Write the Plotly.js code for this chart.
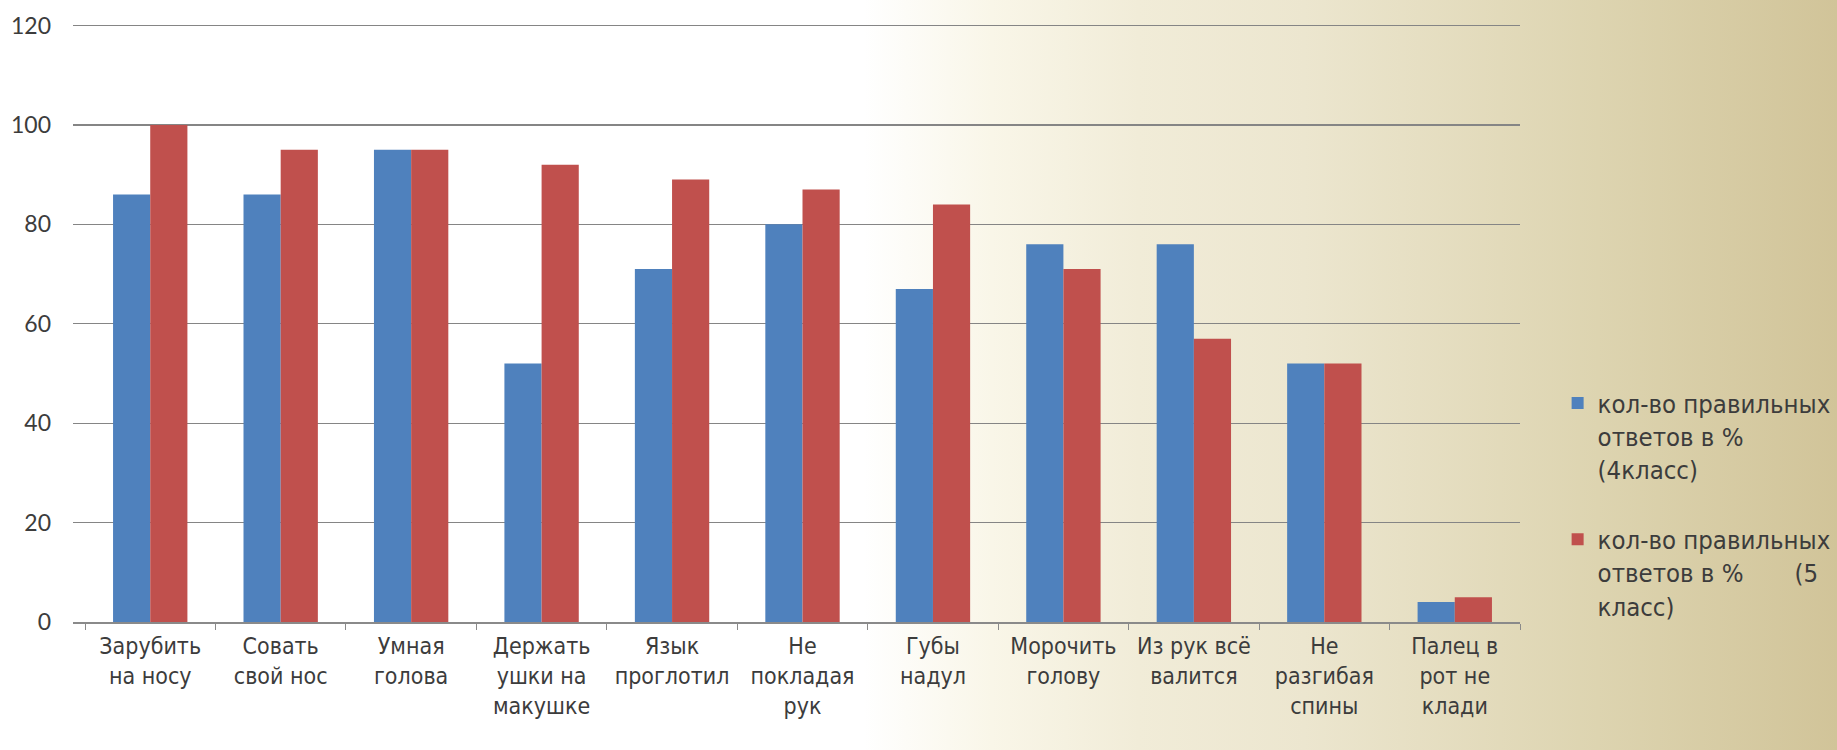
<!DOCTYPE html>
<html>
<head>
<meta charset="utf-8">
<script src="https://cdn.plot.ly/plotly-3.0.1.min.js"></script>
<style>
html, body { margin: 0; padding: 0; }
body {
  width: 1837px; height: 750px; overflow: hidden;
  background: linear-gradient(to right, #ffffff 0%, #ffffff 47%, #f9f6e8 54%, #f1ecd8 62%, #ece6cf 71%, #ddd4b0 87%, #d1c499 100%);
}
#chart { width: 1837px; height: 750px; }
</style>
</head>
<body>
<div id="chart"></div>
<script>
// Categories (idioms)
const categories = [
  "Зарубить на носу", "Совать свой нос", "Умная голова", "Держать ушки на макушке",
  "Язык проглотил", "Не покладая рук", "Губы надул", "Морочить голову",
  "Из рук всё валится", "Не разгибая спины", "Палец в рот не клади"
];
// Tick labels as wrapped in the original
const tickLabels = [
  "Зарубить<br>на носу", "Совать<br>свой нос", "Умная<br>голова", "Держать<br>ушки на<br>макушке",
  "Язык<br>проглотил", "Не<br>покладая<br>рук", "Губы<br>надул", "Морочить<br>голову",
  "Из рук всё<br>валится", "Не<br>разгибая<br>спины", "Палец в<br>рот не<br>клади"
];
// Series values (% correct answers)
const grade4 = [86, 86, 95, 52, 71, 80, 67, 76, 76, 52, 4];
const grade5 = [100, 95, 95, 92, 89, 87, 84, 71, 57, 52, 5];
const seriesNames = [
  "кол-во правильных<br>ответов в %<br>(4класс)",
  "кол-во правильных<br>ответов в %\u00a0\u00a0\u00a0\u00a0\u00a0\u00a0\u00a0(5<br>класс)"
];
const yTicks = [0, 20, 40, 60, 80, 100, 120];

const traces = [
  { type: "bar", x: categories, y: grade4, name: seriesNames[0], legendgroup: "g4",
    marker: { color: "#4f81bd" }, hoverinfo: "x+y" },
  { type: "bar", x: categories, y: grade5, name: seriesNames[1], legendgroup: "g5",
    marker: { color: "#c0504d" }, hoverinfo: "x+y" }
];

const layout = {
  width: 1837, height: 750,
  paper_bgcolor: "rgba(0,0,0,0)",
  plot_bgcolor: "rgba(0,0,0,0)",
  margin: { l: 73, r: 317, t: 24, b: 128, pad: 0, autoexpand: false },
  barmode: "group",
  bargap: 0.43,
  bargroupgap: 0,
  font: { family: "Liberation Sans Narrow, DejaVu Sans Condensed, sans-serif", color: "#3c3c3c", size: 22 },
  xaxis: {
    type: "category",
    range: [-0.592, 10.5],
    tickmode: "array",
    tickvals: categories,
    ticktext: tickLabels,
    tickson: "boundaries",
    ticks: "outside",
    ticklen: 6,
    tickcolor: "#8a8a8a",
    showline: true,
    linecolor: "#8a8a8a",
    linewidth: 1.5,
    showgrid: false,
    tickfont: { family: "Liberation Sans Narrow, DejaVu Sans Condensed, sans-serif", size: 23, color: "#3c3c3c" },
    ticklabelstandoff: 3,
    zeroline: false,
    automargin: false,
    fixedrange: true
  },
  yaxis: {
    range: [0, 120.3],
    tickmode: "array",
    tickvals: yTicks,
    ticktext: yTicks.map(String),
    showgrid: true,
    gridcolor: "#858585",
    gridwidth: 1.2,
    zeroline: false,
    showline: false,
    ticks: "",
    tickfont: { family: "Lato, sans-serif", size: 23, color: "#3c3c3c" },
    ticklabelstandoff: 21,
    automargin: false,
    fixedrange: true
  },
  showlegend: true,
  legend: {
    x: 1.026, xanchor: "left",
    y: 0.405, yanchor: "top",
    bgcolor: "rgba(0,0,0,0)",
    font: { family: "Liberation Sans Narrow, DejaVu Sans Condensed, sans-serif", size: 25.5, color: "#3c3c3c" },
    traceorder: "grouped",
    tracegroupgap: 34,
    valign: "top",
    itemwidth: 30
  }
};

Plotly.newPlot("chart", traces, layout, { displayModeBar: false, staticPlot: true });
</script>
</body>
</html>
